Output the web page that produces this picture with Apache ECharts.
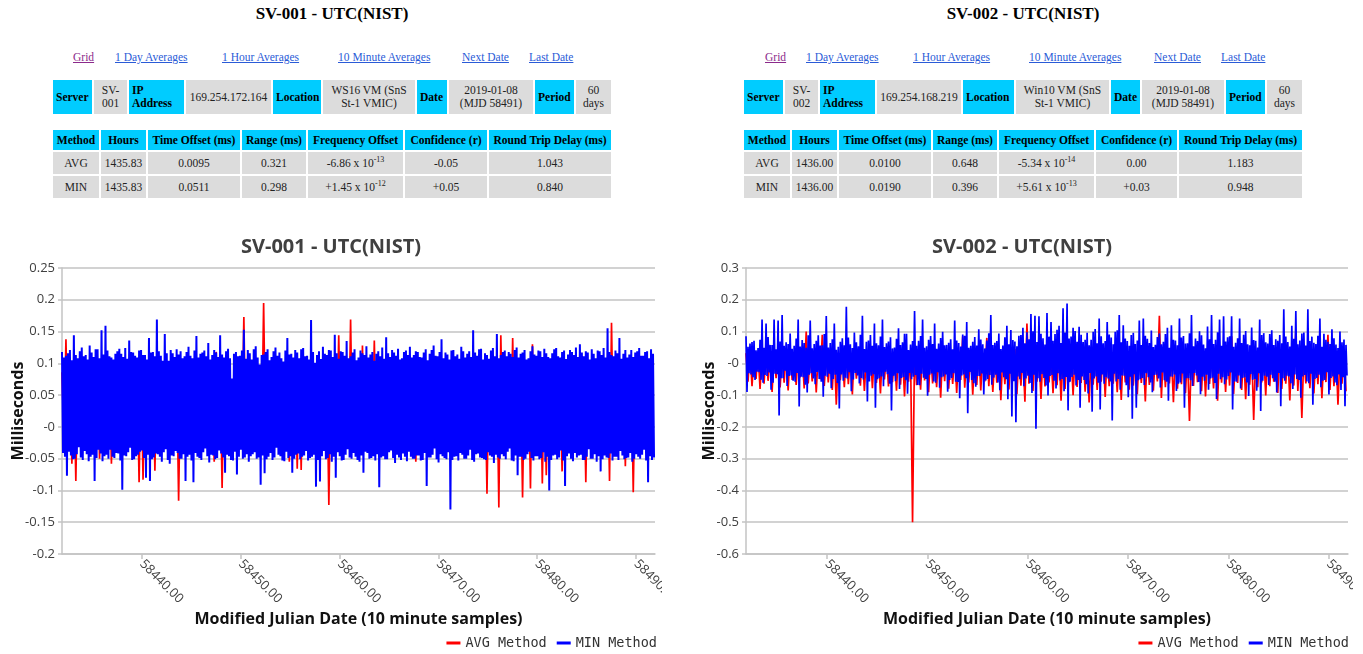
<!DOCTYPE html>
<html><head><meta charset="utf-8">
<script src="https://cdn.jsdelivr.net/npm/echarts@6/dist/echarts.min.js"></script>
<style>
body{margin:0;background:#fff;width:1363px;height:654px;overflow:hidden;position:relative;font-family:"Liberation Serif","Times New Roman",serif;color:#111}
.h{position:absolute;top:4px;width:300px;text-align:center;font-weight:bold;font-size:17px;line-height:20px;color:#000}
.lk{position:absolute;top:50px;font-size:11.5px;line-height:14px;color:#2a5bd7;text-decoration:underline;white-space:nowrap}
.lk.v{color:#8b2a8b}
table{position:absolute;border-collapse:separate;border-spacing:2px;table-layout:fixed;font-size:11.5px}
td{padding:0;text-align:center;background:#dcdcdc;color:#222;line-height:13px;overflow:hidden;white-space:nowrap}
td.c{background:#00ccff;font-weight:bold;color:#000}
.t1 td{height:34px}
.t1 td.c{text-align:left;padding-left:3px}
.t2 tr.hd td{height:20px}
.t2 tr.rw td{height:22px}
sup{font-size:8px;line-height:0}
.ch{position:absolute;top:225px;width:662px;height:429px}
</style></head><body>

<div class="h" style="left:182px">SV-001 - UTC(NIST)</div>
<span class="lk v" style="left:73px">Grid</span>
<span class="lk" style="left:115px">1 Day Averages</span>
<span class="lk" style="left:222px">1 Hour Averages</span>
<span class="lk" style="left:338px">10 Minute Averages</span>
<span class="lk" style="left:462px">Next Date</span>
<span class="lk" style="left:529px">Last Date</span>

<table class="t1" style="left:51px;top:78px;width:562px">
<colgroup><col style="width:39px"><col style="width:33px"><col style="width:55px"><col style="width:85px"><col style="width:48px"><col style="width:92px"><col style="width:30px"><col style="width:84px"><col style="width:39px"><col style="width:35px"></colgroup>
<tr><td class="c">Server</td><td>SV-<br>001</td><td class="c">IP<br>Address</td><td>169.254.172.164</td><td class="c">Location</td><td>WS16 VM (SnS<br>St-1 VMIC)</td><td class="c">Date</td><td>2019-01-08<br>(MJD 58491)</td><td class="c">Period</td><td>60<br>days</td></tr>
</table>

<table class="t2" style="left:51px;top:128px;width:562px">
<colgroup><col style="width:46px"><col style="width:45px"><col style="width:92px"><col style="width:64px"><col style="width:95px"><col style="width:82px"><col style="width:122px"></colgroup>
<tr class="hd"><td class="c">Method</td><td class="c">Hours</td><td class="c">Time Offset (ms)</td><td class="c">Range (ms)</td><td class="c">Frequency Offset</td><td class="c">Confidence (r)</td><td class="c">Round Trip Delay (ms)</td></tr>
<tr class="rw"><td>AVG</td><td>1435.83</td><td>0.0095</td><td>0.321</td><td>-6.86 x 10<sup>-13</sup></td><td>-0.05</td><td>1.043</td></tr>
<tr class="rw"><td>MIN</td><td>1435.83</td><td>0.0511</td><td>0.298</td><td>+1.45 x 10<sup>-12</sup></td><td>+0.05</td><td>0.840</td></tr>
</table>

<div class="h" style="left:873px">SV-002 - UTC(NIST)</div>
<span class="lk v" style="left:765px">Grid</span>
<span class="lk" style="left:806px">1 Day Averages</span>
<span class="lk" style="left:913px">1 Hour Averages</span>
<span class="lk" style="left:1029px">10 Minute Averages</span>
<span class="lk" style="left:1154px">Next Date</span>
<span class="lk" style="left:1221px">Last Date</span>

<table class="t1" style="left:742px;top:78px;width:562px">
<colgroup><col style="width:39px"><col style="width:33px"><col style="width:55px"><col style="width:84px"><col style="width:51px"><col style="width:93px"><col style="width:29px"><col style="width:82px"><col style="width:39px"><col style="width:35px"></colgroup>
<tr><td class="c">Server</td><td>SV-<br>002</td><td class="c">IP<br>Address</td><td>169.254.168.219</td><td class="c">Location</td><td>Win10 VM (SnS<br>St-1 VMIC)</td><td class="c">Date</td><td>2019-01-08<br>(MJD 58491)</td><td class="c">Period</td><td>60<br>days</td></tr>
</table>

<table class="t2" style="left:742px;top:128px;width:562px">
<colgroup><col style="width:46px"><col style="width:45px"><col style="width:92px"><col style="width:64px"><col style="width:95px"><col style="width:81px"><col style="width:123px"></colgroup>
<tr class="hd"><td class="c">Method</td><td class="c">Hours</td><td class="c">Time Offset (ms)</td><td class="c">Range (ms)</td><td class="c">Frequency Offset</td><td class="c">Confidence (r)</td><td class="c">Round Trip Delay (ms)</td></tr>
<tr class="rw"><td>AVG</td><td>1436.00</td><td>0.0100</td><td>0.648</td><td>-5.34 x 10<sup>-14</sup></td><td>0.00</td><td>1.183</td></tr>
<tr class="rw"><td>MIN</td><td>1436.00</td><td>0.0190</td><td>0.396</td><td>+5.61 x 10<sup>-13</sup></td><td>+0.03</td><td>0.948</td></tr>
</table>

<div id="c1" class="ch" style="left:0px"></div>
<div id="c2" class="ch" style="left:691px"></div>

<script>
// Sampling grid (MJD) of the plotted samples
const mjdStart = 58431.92;
const minStep = 0.1;   // MJD spacing of the MIN Method values listed below
const avgStep = 0.2;   // MJD spacing of the AVG Method values listed below
const xMin = 58431.92, xMax = 58491.92;
const xTickLabels = ['58440.00','58450.00','58460.00','58470.00','58480.00','58490.00'];
const seriesNames = ['AVG Method','MIN Method'];

// SV-001 y-axis tick labels (from -0.2 up to 0.25)
const c1YLabels = ['-0.2','-0.15','-0.1','-0.05','-0','0.05','0.1','0.15','0.2','0.25'];
// SV-002 y-axis tick labels (from -0.6 up to 0.3)
const c2YLabels = ['-0.6','-0.5','-0.4','-0.3','-0.2','-0.1','-0','0.1','0.2','0.3'];

// SV-001 MIN Method (ms)
const c1Min = [
.118,-.041,.109,-.047,.112,-.077,.116,-.039,.121,-.045,.105,-.051,.144,-.050,.113,-.043,.108,-.032,.119,-.048,
.125,-.052,.111,-.038,.113,-.043,.106,-.054,.128,-.047,.117,-.044,.110,-.085,.122,-.049,.122,-.036,.108,-.042,
.152,-.054,.114,-.046,.159,-.044,.120,-.050,.111,-.036,.109,-.047,.106,-.049,.115,-.041,.119,-.042,.123,-.053,
.115,-.099,.110,-.045,.124,-.046,.107,-.040,.136,-.033,.118,-.052,.117,-.051,.112,-.046,.109,-.044,.120,-.039,
.121,-.037,.113,-.049,.113,-.080,.106,-.044,.140,-.085,.117,-.051,.118,-.048,.111,-.042,.169,-.043,.119,-.047,
.112,-.055,.104,-.040,.146,-.035,.116,-.052,.104,-.058,.121,-.045,.116,-.046,.110,-.038,.122,-.041,.114,-.050,
.119,-.050,.108,-.043,.111,-.085,.118,-.047,.126,-.044,.112,-.053,.108,-.087,.120,-.041,.143,-.047,.109,-.049,
.115,-.052,.117,-.040,.120,-.034,.111,-.046,.132,-.056,.106,-.044,.113,-.045,.121,-.051,.117,-.049,.110,-.037,
.144,-.042,.114,-.048,.109,-.072,.119,-.044,.123,-.046,.108,-.052,.076,-.053,.115,-.039,.118,-.075,.111,-.047,
.112,-.036,.120,-.050,.153,-.048,.107,-.043,.121,-.055,.116,-.046,.106,-.043,.122,-.040,.127,-.050,.109,-.048,
.098,-.091,.113,-.045,.114,-.073,.118,-.051,.122,-.047,.105,-.041,.110,-.052,.119,-.048,.125,-.033,.112,-.044,
.117,-.046,.108,-.053,.103,-.054,.120,-.039,.140,-.049,.114,-.046,.115,-.072,.109,-.050,.121,-.044,.117,-.042,
.108,-.051,.122,-.047,.124,-.045,.111,-.038,.112,-.053,.106,-.049,.168,-.047,.118,-.044,.101,-.094,.113,-.052,
.119,-.086,.107,-.046,.126,-.038,.115,-.051,.113,-.049,.121,-.043,.120,-.055,.110,-.047,.145,-.080,.116,-.040,
.107,-.046,.119,-.053,.118,-.052,.112,-.044,.135,-.035,.108,-.048,.111,-.050,.117,-.041,.122,-.047,.105,-.052,
.109,-.055,.120,-.045,.116,-.072,.113,-.039,.127,-.041,.109,-.050,.114,-.049,.118,-.046,.104,-.053,.115,-.043,
.119,-.095,.111,-.048,.125,-.046,.107,-.051,.141,-.051,.116,-.040,.110,-.037,.121,-.049,.117,-.057,.112,-.044,
.123,-.048,.106,-.052,.108,-.042,.118,-.047,.120,-.054,.113,-.039,.126,-.047,.109,-.050,.113,-.050,.119,-.045,
.118,-.045,.110,-.053,.109,-.052,.117,-.041,.122,-.093,.105,-.048,.115,-.048,.121,-.044,.128,-.034,.112,-.051,
.111,-.056,.118,-.043,.138,-.046,.108,-.049,.117,-.051,.114,-.040,.106,-.130,.120,-.052,.121,-.047,.111,-.046,
.114,-.053,.107,-.041,.126,-.044,.119,-.050,.109,-.050,.115,-.045,.119,-.036,.110,-.052,.152,-.055,.117,-.043,
.112,-.042,.122,-.048,.123,-.049,.106,-.051,.116,-.052,.113,-.040,.107,-.045,.120,-.047,.124,-.057,.111,-.044,
.146,-.048,.108,-.050,.113,-.043,.118,-.046,.120,-.051,.111,-.039,.118,-.034,.115,-.053,.110,-.054,.121,-.045,
.125,-.076,.109,-.047,.115,-.047,.117,-.052,.121,-.050,.106,-.043,.108,-.039,.119,-.049,.127,-.053,.114,-.046,
.112,-.046,.120,-.051,.119,-.049,.110,-.040,.123,-.055,.116,-.047,.110,-.100,.108,-.052,.116,-.045,.122,-.044,
.124,-.051,.111,-.048,.109,-.037,.118,-.053,.120,-.093,.107,-.046,.114,-.042,.121,-.050,.118,-.054,.113,-.041,
.125,-.048,.110,-.045,.130,-.044,.117,-.052,.111,-.052,.119,-.047,.117,-.035,.106,-.050,.122,-.050,.115,-.043,
.108,-.055,.120,-.046,.119,-.070,.113,-.051,.124,-.045,.109,-.048,.155,-.049,.118,-.042,.113,-.053,.111,-.047,
.120,-.047,.116,-.052,.140,-.038,.107,-.045,.115,-.051,.121,-.049,.109,-.048,.114,-.041,.121,-.055,.110,-.050,
.117,-.043,.119,-.047,.124,-.050,.112,-.044,.112,-.036,.118,-.053,.119,-.087,.108,-.046,.122,-.052,.115,-.048
];
// SV-001 AVG Method (ms)
const c1Avg = [
.086,-.021,.138,-.024,.090,-.058,.084,-.085,.088,-.019,.091,-.023,.085,-.020,.089,-.025,.087,-.022,.092,-.050,
.086,-.021,.090,-.018,.084,-.058,.088,-.024,.091,-.020,.085,-.023,.089,-.019,.087,-.025,.092,-.021,.086,-.087,
.090,-.083,.084,-.022,.088,-.020,.091,-.069,.085,-.024,.089,-.018,.087,-.023,.092,-.021,.086,-.025,.090,-.116,
.084,-.020,.088,-.022,.091,-.019,.085,-.024,.089,-.021,.087,-.023,.092,-.018,.086,-.025,.090,-.055,.118,-.020,
.088,-.096,.091,-.022,.085,-.024,.070,-.019,.087,-.023,.092,-.021,.173,-.025,.090,-.020,.084,-.022,.088,-.018,
.091,-.024,.195,-.021,.089,-.023,.087,-.019,.092,-.025,.086,-.022,.090,-.020,.084,-.055,.088,-.024,.091,-.066,
.085,-.068,.089,-.021,.087,-.023,.092,-.019,.086,-.025,.090,-.022,.084,-.020,.088,-.123,.091,-.024,.085,-.021,
.144,-.023,.087,-.019,.092,-.025,.169,-.022,.090,-.020,.084,-.024,.128,-.021,.091,-.023,.085,-.018,.136,-.025,
.087,-.022,.092,-.020,.086,-.024,.090,-.021,.084,-.023,.088,-.019,.091,-.025,.085,-.022,.089,-.020,.087,-.055,
.092,-.024,.086,-.021,.090,-.023,.084,-.018,.088,-.025,.091,-.022,.085,-.020,.089,-.024,.087,-.021,.092,-.023,
.086,-.019,.090,-.025,.084,-.022,.088,-.020,.091,-.024,.085,-.021,.089,-.023,.087,-.105,.092,-.018,.086,-.025,
.090,-.127,.144,-.022,.084,-.020,.088,-.024,.140,-.021,.091,-.023,.085,-.111,.089,-.019,.087,-.097,.130,-.025,
.092,-.022,.086,-.089,.090,-.076,.084,-.020,.088,-.024,.091,-.021,.085,-.070,.089,-.023,.087,-.019,.092,-.025,
.086,-.022,.090,-.020,.084,-.087,.088,-.024,.091,-.021,.085,-.023,.089,-.018,.087,-.025,.092,-.085,.164,-.022,
.086,-.020,.090,-.024,.084,-.062,.088,-.021,.091,-.103,.085,-.023,.089,-.019,.087,-.025,.092,-.022,.086,-.021
];
// SV-002 MIN Method (ms)
const c2Min = [
.085,-.090,.052,-.031,.062,-.035,.067,-.044,.071,-.052,.041,-.026,.048,-.028,.074,-.052,.138,-.061,.049,-.037,
.125,-.040,.083,-.029,.058,-.083,.058,-.061,.138,-.033,.044,-.034,.135,-.164,.069,-.047,.152,-.047,.055,-.023,
.066,-.071,.061,-.040,.094,-.038,.046,-.055,.055,-.058,.078,-.030,.138,-.136,.053,-.042,.073,-.044,.064,-.067,
.049,-.092,.088,-.036,.135,-.031,.047,-.048,.061,-.066,.071,-.027,.088,-.049,.056,-.058,.057,-.105,.092,-.039,
.149,-.042,.050,-.033,.064,-.078,.076,-.049,.125,-.036,.043,-.062,.052,-.142,.068,-.035,.079,-.055,.057,-.045,
.178,-.048,.081,-.028,.060,-.088,.048,-.051,.097,-.030,.066,-.038,.054,-.063,.090,-.046,.150,-.051,.045,-.029,
.068,-.120,.072,-.057,.089,-.039,.055,-.034,.125,-.140,.063,-.050,.057,-.047,.084,-.041,.138,-.072,.051,-.026,
.063,-.034,.069,-.064,.082,-.148,.047,-.039,.050,-.056,.077,-.031,.110,-.081,.058,-.046,.066,-.043,.093,-.053,
.093,-.096,.042,-.030,.059,-.050,.070,-.042,.165,-.037,.055,-.068,.071,-.069,.086,-.033,.138,-.045,.049,-.049,
.054,-.102,.074,-.036,.086,-.032,.061,-.057,.125,-.061,.046,-.028,.062,-.077,.080,-.044,.099,-.041,.057,-.035,
.058,-.089,.065,-.052,.076,-.046,.044,-.031,.135,-.058,.072,-.059,.064,-.110,.053,-.038,.091,-.035,.087,-.047,
.130,-.157,.049,-.027,.055,-.052,.068,-.063,.083,-.074,.056,-.040,.107,-.040,.075,-.032,.060,-.098,.047,-.054,
.072,-.049,.095,-.037,.152,-.067,.058,-.045,.065,-.036,.070,-.060,.094,-.085,.045,-.029,.056,-.044,.082,-.050,
.118,-.113,.060,-.033,.105,-.167,.073,-.056,.069,-.185,.054,-.041,.087,-.050,.089,-.030,.112,-.072,.063,-.048,
.098,-.039,.076,-.062,.155,-.093,.101,-.036,.150,-.206,.067,-.047,.148,-.058,.093,-.034,.079,-.046,.059,-.070,
.158,-.101,.084,-.040,.130,-.037,.071,-.055,.092,-.079,.106,-.031,.118,-.054,.064,-.049,.173,-.088,.097,-.043,
.188,-.148,.078,-.058,.084,-.043,.112,-.036,.102,-.070,.068,-.052,.115,-.140,.090,-.041,.067,-.052,.074,-.066,
.096,-.095,.057,-.030,.074,-.152,.099,-.048,.108,-.041,.063,-.061,.141,-.145,.085,-.035,.063,-.064,.070,-.044,
.130,-.048,.091,-.057,.081,-.180,.060,-.033,.099,-.057,.104,-.049,.152,-.083,.066,-.038,.120,-.039,.078,-.069,
.070,-.107,.055,-.042,.089,-.174,.096,-.034,.061,-.140,.072,-.053,.135,-.050,.058,-.046,.141,-.068,.087,-.031,
.077,-.044,.064,-.060,.103,-.091,.051,-.037,.058,-.036,.083,-.048,.094,-.076,.060,-.029,.068,-.053,.092,-.058,
.112,-.118,.049,-.041,.120,-.042,.074,-.035,.072,-.087,.057,-.064,.141,-.060,.081,-.032,.086,-.140,.062,-.047,
.063,-.047,.095,-.053,.152,-.071,.054,-.030,.078,-.038,.070,-.059,.101,-.097,.088,-.042,.059,-.055,.047,-.036,
.116,-.083,.076,-.048,.152,-.045,.061,-.062,.074,-.112,.098,-.033,.138,-.050,.055,-.044,.148,-.066,.069,-.051,
.082,-.040,.085,-.029,.148,-.145,.052,-.057,.065,-.058,.079,-.038,.141,-.079,.064,-.046,.090,-.044,.102,-.060,
.060,-.103,.057,-.034,.113,-.052,.073,-.049,.071,-.086,.050,-.031,.138,-.150,.089,-.055,.095,-.039,.066,-.042,
.062,-.068,.092,-.036,.104,-.047,.058,-.058,.076,-.092,.071,-.030,.089,-.135,.063,-.047,.170,-.055,.084,-.039,
.067,-.041,.053,-.063,.118,-.081,.077,-.035,.165,-.049,.060,-.052,.072,-.108,.094,-.041,.097,-.037,.056,-.057,
.170,-.063,.070,-.033,.084,-.130,.065,-.049,.061,-.046,.087,-.036,.141,-.075,.052,-.055,.093,-.052,.074,-.028,
.068,-.098,.061,-.046,.107,-.041,.079,-.060,.059,-.069,.048,-.035,.100,-.084,.066,-.044,.075,-.135,.058,-.038
];
// SV-002 AVG Method (ms)
const c2Avg = [
.032,-.058,.041,-.072,.025,-.049,.038,-.081,.030,-.064,.045,-.055,.027,-.090,.036,-.047,.042,-.076,.029,-.061,
.035,-.085,.044,-.052,.026,-.068,.039,-.044,.031,-.079,.100,-.063,.028,-.057,.040,-.092,.033,-.050,.090,-.071,
.037,-.060,.029,-.084,.043,-.130,.034,-.053,.026,-.075,.041,-.066,.030,-.098,.046,-.048,.032,-.070,.038,-.087,
.027,-.055,.040,-.078,.035,-.062,.029,-.095,.044,-.051,.031,-.073,.038,-.059,.025,-.086,.042,-.067,.033,-.104,
.036,-.058,.030,-.500,.045,-.069,.028,-.083,.039,-.054,.034,-.091,.041,-.063,.027,-.075,.037,-.108,.032,-.056,
.043,-.080,.029,-.065,.036,-.093,.040,-.052,.085,-.077,.031,-.060,.038,-.099,.026,-.068,.044,-.085,.033,-.057,
.080,-.072,.035,-.090,.028,-.061,.042,-.116,.031,-.066,.039,-.082,.027,-.055,.045,-.097,.034,-.070,.030,-.121,
.125,-.064,.037,-.087,.041,-.058,.029,-.112,.036,-.073,.043,-.060,.032,-.094,.027,-.069,.039,-.118,.034,-.081,
.045,-.059,.030,-.100,.038,-.074,.026,-.062,.041,-.089,.035,-.123,.029,-.067,.044,-.084,.033,-.058,.037,-.106,
.031,-.072,.042,-.064,.028,-.091,.036,-.115,.040,-.060,.027,-.083,.045,-.070,.032,-.097,.038,-.062,.030,-.120,
.043,-.068,.034,-.086,.029,-.057,.150,-.109,.037,-.075,.041,-.063,.026,-.122,.039,-.080,.033,-.066,.044,-.094,
.030,-.181,.036,-.071,.042,-.059,.028,-.088,.035,-.104,.040,-.065,.031,-.079,.045,-.118,.027,-.061,.038,-.090,
.034,-.070,.085,-.096,.029,-.062,.041,-.084,.036,-.113,.032,-.067,.044,-.178,.028,-.075,.039,-.060,.033,-.101,
.040,-.072,.026,-.058,.037,-.093,.043,-.081,.031,-.064,.035,-.117,.029,-.070,.100,-.087,.038,-.172,.032,-.063,
.041,-.078,.027,-.095,.036,-.066,.044,-.110,.030,-.059,.090,-.084,.034,-.072,.039,-.130,.028,-.064,.037,-.088
];

function toPts(vals, step){ return vals.map(function(v,i){ return [mjdStart + i*step, v]; }); }
function xFmt(v){
  for (var k=0;k<xTickLabels.length;k++){ if (Math.abs(v - parseFloat(xTickLabels[k])) < 1e-6) return xTickLabels[k]; }
  return '';
}
var gridColor = '#c3c3c3';
function makeOption(o){
  return {
    animation:false,
    title:{text:o.title,left:'center',top:7,textStyle:{fontFamily:'Open Sans',fontWeight:'bold',fontSize:20,color:'#404040'}},
    legend:{data:seriesNames,right:o.legendRight,top:411,padding:0,icon:'rect',itemWidth:14,itemHeight:3,itemGap:10,
      textStyle:{fontFamily:'DejaVu Sans Mono',fontSize:13.5,color:'#333'}},
    grid:{left:o.left,right:o.right,top:43,bottom:100,containLabel:false,outerBoundsMode:'none'},
    xAxis:{type:'value',min:xMin,max:xMax,splitNumber:6,
      name:'Modified Julian Date (10 minute samples)',nameLocation:'middle',nameGap:57,nameMoveOverlap:false,
      nameTextStyle:{fontFamily:'Open Sans',fontWeight:'bold',fontSize:16,color:'#111'},
      axisLine:{show:true,onZero:false,lineStyle:{color:gridColor,width:1.5}},
      axisTick:{show:true,length:5,lineStyle:{color:gridColor,width:1.5}},
      axisLabel:{rotate:-45,margin:8,fontFamily:'Open Sans',fontSize:13,color:'#404040',formatter:xFmt,showMinLabel:false,showMaxLabel:false},
      splitLine:{show:false}},
    yAxis:{type:'value',min:o.yMin,max:o.yMax,interval:o.yStep,
      name:'Milliseconds',nameLocation:'middle',nameGap:o.nameGap,nameMoveOverlap:false,
      nameTextStyle:{fontFamily:'Open Sans',fontWeight:'bold',fontSize:16,color:'#111'},
      axisLine:{show:true,lineStyle:{color:gridColor,width:1.5}},
      axisTick:{show:true,length:4,lineStyle:{color:gridColor,width:1.5}},
      axisLabel:{margin:7,fontFamily:'Open Sans',fontSize:13,color:'#404040',
        formatter:function(v){ var k=Math.round((v-o.yMin)/o.yStep); return o.yLabels[k]||''; }},
      splitLine:{show:true,lineStyle:{color:gridColor,width:1.5}}},
    series:[
      {name:seriesNames[0],type:'line',data:toPts(o.avg,avgStep),showSymbol:false,symbol:'none',sampling:false,
        lineStyle:{color:'#ff0000',width:o.wa},itemStyle:{color:'#ff0000'}},
      {name:seriesNames[1],type:'line',data:toPts(o.min,minStep),showSymbol:false,symbol:'none',sampling:false,
        lineStyle:{color:'#0000ff',width:o.wm},itemStyle:{color:'#0000ff'}}
    ]
  };
}
var ch1 = echarts.init(document.getElementById('c1'));
ch1.setOption(makeOption({title:'SV-001 - UTC(NIST)',left:62,right:7,legendRight:5,nameGap:36,
  yMin:-0.2,yMax:0.25,yStep:0.05,yLabels:c1YLabels,avg:c1Avg,min:c1Min,wa:1.7,wm:2}));
var ch2 = echarts.init(document.getElementById('c2'));
ch2.setOption(makeOption({title:'SV-002 - UTC(NIST)',left:55,right:5,legendRight:4,nameGap:29,
  yMin:-0.6,yMax:0.3,yStep:0.1,yLabels:c2YLabels,avg:c2Avg,min:c2Min,wa:1.7,wm:1.7}));
</script>
</body></html>
